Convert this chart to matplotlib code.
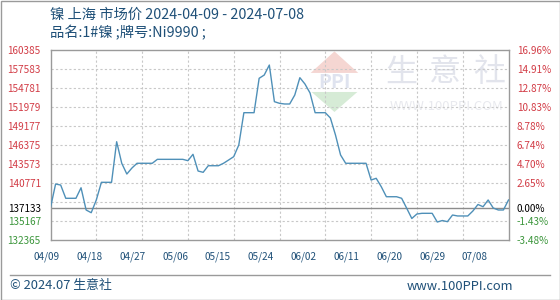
import numpy as np
import pandas as pd
import matplotlib
matplotlib.use("Agg")
import matplotlib.pyplot as plt
from matplotlib.patches import Polygon

plt.rcParams['font.family'] = ['Noto Sans CJK SC', 'DejaVu Sans']

# daily prices (yuan/ton), 2024-04-09 .. 2024-07-08
start_date = "2024-04-09"
prices = [
    137133, 140600, 140450, 138500, 138500, 138500, 140050, 136780, 136380, 138250,
    140850, 140850, 140850, 146820, 143650, 142070, 142950, 143650, 143650, 143650,
    143650, 144230, 144230, 144230, 144230, 144230, 144230, 144030, 144970, 142510,
    142320, 143290, 143290, 143290, 143650, 144130, 144620, 146340, 151090, 151090,
    151090, 156150, 156630, 158100, 152710, 152470, 152370, 152370, 153690, 156240,
    155310, 153990, 151090, 151090, 151090, 150310, 147810, 144870, 143650, 143650,
    143650, 143650, 143650, 141190, 141440, 140200, 138730, 138730, 138730, 138500,
    137030, 135530, 136190, 136290, 136290, 136290, 135010, 135230, 135060, 136040,
    135900, 135900, 135900, 136630, 137590, 137260, 138250, 137070, 136780, 136780,
    138250,
]
base_price = 137133
y_top = 160385
y_step = 2802
n_steps = 10
x_labels = ["04/09", "04/18", "04/27", "05/06", "05/15", "05/24",
            "06/02", "06/11", "06/20", "06/29", "07/08"]

dates = pd.date_range(start_date, periods=len(prices), freq="D")
grid_vals = [y_top - k * y_step for k in range(n_steps + 1)]
y_bottom = grid_vals[-1]
# labelled values: regular grid, but the one just above base is replaced by base
label_vals = [v for v in grid_vals if not (base_price < v < base_price + y_step)]
label_vals.append(base_price)
label_vals = sorted(label_vals, reverse=True)

W, H = 560, 300
fig = plt.figure(figsize=(W / 100, H / 100), dpi=100)
ax = fig.add_axes([50.5 / W, 1 - 240 / H, 458 / W, 190.5 / H])

text_blue = '#1f5078'
line_color = '#4f90b8'
red = '#d23c46'
green = '#3c963c'

# watermark
for i, ch in enumerate("生意社"):
    ax.text(0.765 + 0.096 * i, 0.88, ch, transform=ax.transAxes, fontsize=23, color='#e2e4ec',
            ha='center', va='center', zorder=0)
ax.text(0.865, 0.70, "WWW.100PPI.COM", transform=ax.transAxes, fontsize=9.5, color='#e8e9ee',
        ha='center', va='center', zorder=0)
roof = Polygon([[0.568, 0.877], [0.62, 0.99], [0.672, 0.877]], closed=True, transform=ax.transAxes,
               facecolor='#f5d6d2', edgecolor='none', zorder=0)
base_tri = Polygon([[0.57, 0.777], [0.67, 0.777], [0.62, 0.672]], closed=True, transform=ax.transAxes,
                   facecolor='#d6ebd6', edgecolor='none', zorder=0)
ax.add_patch(roof)
ax.add_patch(base_tri)
ax.text(0.62, 0.826, "PPI", transform=ax.transAxes, fontsize=14, color='#dfe3ef',
        ha='center', va='center', fontweight='bold', zorder=0)

# grid
for v in grid_vals[1:-1]:
    ax.axhline(v, color='#c8c8c8', linestyle=(0, (2, 2)), linewidth=0.8, zorder=1)
tick_dates = dates[::9]
for d in tick_dates[1:-1]:
    ax.axvline(d, color='#c8c8c8', linestyle=(0, (2, 2)), linewidth=0.8, zorder=1)
ax.axhline(base_price, color='#8c8c8c', linewidth=1.0, zorder=2)

ax.plot(dates, prices, color=line_color, linewidth=1.0, zorder=3)

ax.set_xlim(dates[0], dates[-1])
ax.set_ylim(y_bottom, y_top)
ax.set_xticks([])
for s in ax.spines.values():
    s.set_color('#9a9a9a')
    s.set_linewidth(1.0)

def lab_color(v):
    if v > base_price:
        return red
    if v < base_price:
        return green
    return 'black'

ax.set_yticks(label_vals)
ax.set_yticklabels([str(v) for v in label_vals], fontsize=7.2)
ax.tick_params(axis='y', length=0, pad=7)
for t, v in zip(ax.get_yticklabels(), label_vals):
    t.set_color(lab_color(v))

ax2 = ax.twinx()
ax2.set_ylim(y_bottom, y_top)
ax2.set_yticks(label_vals)
ax2.set_yticklabels([f"{(v - base_price) / base_price * 100:.2f}%" for v in label_vals],
                    fontsize=7.2)
ax2.tick_params(axis='y', length=0, pad=6)
for t, v in zip(ax2.get_yticklabels(), label_vals):
    t.set_color(lab_color(v))
for s in ax2.spines.values():
    s.set_visible(False)

# x labels (evenly spread like the original)
for i, lab in enumerate(x_labels):
    fig.text((46.7 + 42.83 * i) / W, 1 - 257 / H, lab, ha='center', va='center',
             fontsize=7.2, color=text_blue)

# titles
fig.text(50 / W, 1 - 15 / H, "镍 上海 市场价 2024-04-09 - 2024-07-08", fontsize=10.3,
         color=text_blue, ha='left', va='center')
fig.text(50 / W, 1 - 33 / H, "品名:1#镍 ;牌号:Ni9990 ;", fontsize=10.3,
         color=text_blue, ha='left', va='center')

# footer
fig.add_artist(plt.Line2D([10 / W, 550 / W], [1 - 275 / H, 1 - 275 / H], color='#9a9a9a',
                          linewidth=1.0))
fig.text(10 / W, 1 - 286 / H, "© 2024.07 生意社", fontsize=9.3, color=text_blue,
         ha='left', va='center')
fig.text(513 / W, 1 - 286 / H, "www.100PPI.com", fontsize=9.3, color=text_blue,
         ha='right', va='center')

# outer frame
fig.add_artist(plt.Rectangle((0.5 / W, 0.5 / H), 1 - 1 / W, 1 - 1 / H, fill=False,
                             edgecolor='#9a9a9a', linewidth=1.0))

fig.savefig("out.png", dpi=100)
